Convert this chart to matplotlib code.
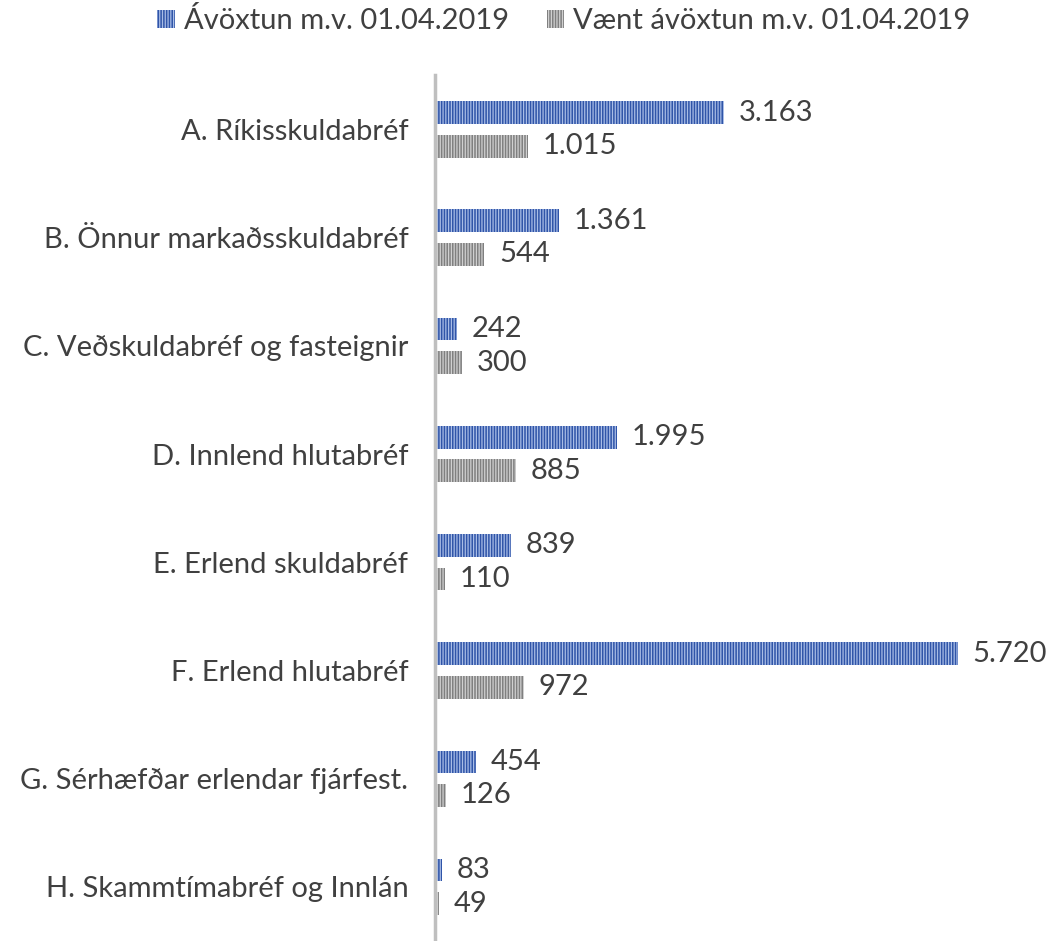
import matplotlib
matplotlib.use("Agg")
import matplotlib.pyplot as plt
import numpy as np

categories = ["A. Ríkisskuldabréf", "B. Önnur markaðsskuldabréf",
              "C. Veðskuldabréf og fasteignir", "D. Innlend hlutabréf",
              "E. Erlend skuldabréf", "F. Erlend hlutabréf",
              "G. Sérhæfðar erlendar fjárfest.", "H. Skammtímabréf og Innlán"]
avoxtun = [3163, 1361, 242, 1995, 839, 5720, 454, 83]
vaent = [1015, 544, 300, 885, 110, 972, 126, 49]
series_names = ["Ávöxtun m.v. 01.04.2019", "Vænt ávöxtun m.v. 01.04.2019"]

plt.rcParams['font.family'] = ['Lato', 'DejaVu Sans']
plt.rcParams['hatch.linewidth'] = 0.9

def fmt(v):
    return "{:,}".format(v).replace(",", ".")

fig = plt.figure(figsize=(10.5, 9.41), dpi=100)
ax = fig.add_axes([0.414, 0.0, 0.566, 0.92])

y = np.arange(len(categories))
h = 0.21
off = 0.155
b1 = ax.barh(y - off, avoxtun, height=h, color="#2F54A8", edgecolor="#A9BDE6",
             hatch="||||||", linewidth=0, label=series_names[0])
b2 = ax.barh(y + off, vaent, height=h, color="#7F7F7F", edgecolor="#D0D0D0",
             hatch="||||||", linewidth=0, label=series_names[1])

for bars, vals in [(b1, avoxtun), (b2, vaent)]:
    for rect, v in zip(bars, vals):
        ax.text(rect.get_width() + 160, rect.get_y() + rect.get_height() / 2, fmt(v),
                va="center", ha="left", fontsize=21, color="#404040")

ax.set_xlim(0, 6500)
ax.set_ylim(len(categories) - 0.5, -0.5)
ax.set_yticks(y)
ax.set_yticklabels(categories, fontsize=21, color="#404040")
ax.tick_params(axis="y", length=0, pad=19)
ax.set_xticks([])
for s in ["top", "right", "bottom"]:
    ax.spines[s].set_visible(False)
ax.spines["left"].set_color("#BFBFBF")
ax.spines["left"].set_linewidth(2.5)

fig.legend(handles=[b1, b2], labels=series_names, loc="upper center",
           bbox_to_anchor=(0.537, 1.02), ncol=2, frameon=False, fontsize=21,
           labelcolor="#404040", handlelength=0.6, handleheight=0.6,
           handletextpad=0.3, columnspacing=1.3)

fig.savefig("out.png", dpi=100)
